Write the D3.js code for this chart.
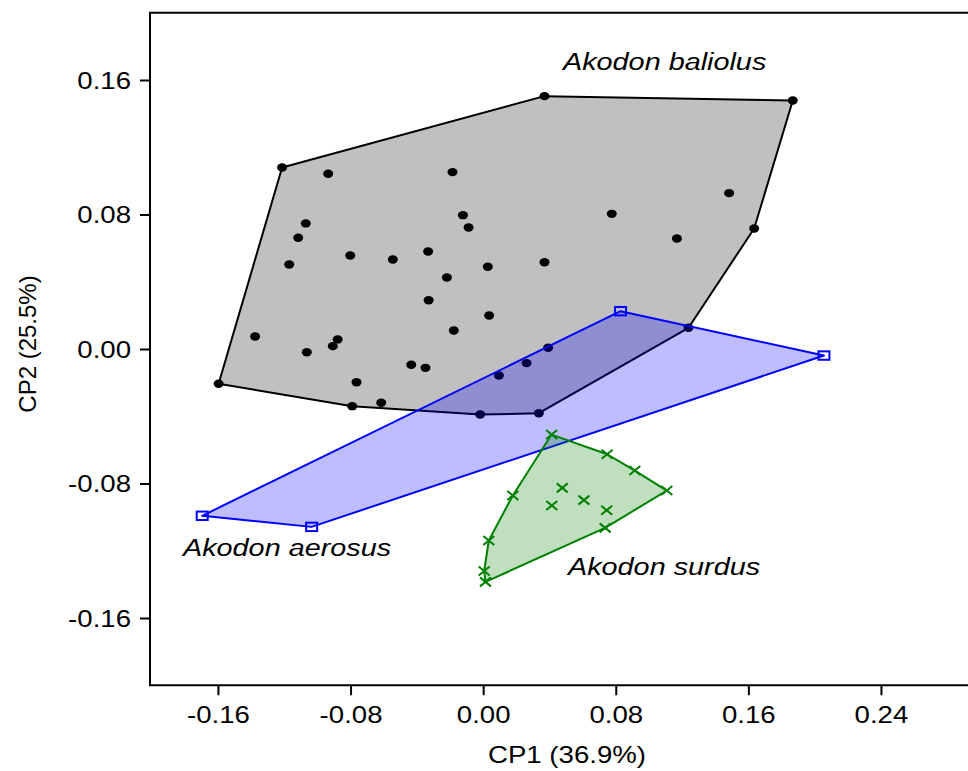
<!DOCTYPE html>
<html>
<head>
<meta charset="utf-8">
<script src="https://cdn.jsdelivr.net/npm/d3@7"></script>
<style>
  html, body { margin: 0; padding: 0; background: #fff; }
  svg { display: block; font-family: "Liberation Sans", Arial, Helvetica, sans-serif; }
</style>
</head>
<body>
<svg id="chart" width="968" height="771"></svg>
<script>
// ---- Data ----
const balX = [-0.1213,-0.0935,-0.0185,-0.1070,-0.1116,-0.0122,-0.0088,-0.0802,-0.0545,-0.0332,
              0.0028,0.0370,-0.1170,-0.0219,-0.0329,0.0036,-0.0177,-0.1376,-0.0878,-0.0907,
              -0.1064,-0.0434,-0.0348,0.0392,0.0262,0.0095,0.0370,-0.1596,-0.0764,-0.0790,
              -0.0615,-0.0018,0.0336,0.1868,0.1484,0.0776,0.1635,0.1169,0.1239];
const balY = [0.1080,0.1042,0.1052,0.0747,0.0662,0.0796,0.0723,0.0556,0.0532,0.0580,
              0.0489,0.0516,0.0503,0.0425,0.0290,0.0199,0.0110,0.0074,0.0057,0.0017,
              -0.0019,-0.0094,-0.0112,0.0007,-0.0084,-0.0158,0.1504,-0.0207,-0.0198,-0.0340,
              -0.0320,-0.0390,-0.0382,0.1478,0.0927,0.0804,0.0717,0.0657,0.0126];
const aerX = [-0.1695,-0.1035,0.0829,0.2056];
const aerY = [-0.0992,-0.1058,0.0225,-0.0039];
const surX = [0.0413,0.0748,0.0915,0.1108,0.0477,0.0608,0.0414,0.0745,0.0736,0.0179,0.0034,0.0006,0.0014];
const surY = [-0.0509,-0.0626,-0.0723,-0.0842,-0.0826,-0.0899,-0.0931,-0.0959,-0.1064,-0.0871,-0.1139,-0.1321,-0.1385];
const xTicks = [-0.16,-0.08,0.00,0.08,0.16,0.24];
const yTicks = [-0.16,-0.08,0.00,0.08,0.16];
const species = ["Akodon baliolus","Akodon aerosus","Akodon surdus"];
const xTitle = "CP1 (36.9%)";
const yTitle = "CP2 (25.5%)";

// ---- Layout ----
const svg = d3.select("#chart");
const L = 150, T = 12.75, B = 685.25;
const x = d3.scaleLinear().domain([-0.201, 0.3]).range([L, L + 0.501 * 1657.5]);
const y = d3.scaleLinear().domain([-0.2, 0.2]).range([B, T]);
const SX = 1.2; // horizontal stretch of the reference
const fmt = d => d3.format(".2f")(d).replace("\u2212", "-");

svg.append("clipPath").attr("id","clip")
  .append("rect").attr("x", L).attr("y", T).attr("width", x(0.3) - L).attr("height", B - T);

const plot = svg.append("g").attr("clip-path","url(#clip)");

function pts(xs, ys){ return xs.map((v,i)=>[x(v), y(ys[i])]); }

// baliolus
const balP = pts(balX, balY);
plot.append("path").attr("d", "M" + d3.polygonHull(balP).join("L") + "Z")
  .attr("fill","#c0c0c0").attr("stroke","#000").attr("stroke-width",2).attr("stroke-linejoin","round");
plot.selectAll(".dot").data(balP).join("ellipse")
  .attr("cx", d=>d[0]).attr("cy", d=>d[1]).attr("rx",5).attr("ry",4.2).attr("fill","#000");

// aerosus
const aerP = pts(aerX, aerY);
plot.append("path").attr("d", "M" + d3.polygonHull(aerP).join("L") + "Z")
  .attr("fill","rgba(0,0,255,0.26)").attr("stroke","#0000ff").attr("stroke-width",2).attr("stroke-linejoin","round");
plot.selectAll(".sq").data(aerP).join("rect")
  .attr("x", d=>d[0]-5.5).attr("y", d=>d[1]-4.2).attr("width",11).attr("height",8.4)
  .attr("fill","none").attr("stroke","#0000ff").attr("stroke-width",2);

// surdus
const surP = pts(surX, surY);
plot.append("path").attr("d", "M" + d3.polygonHull(surP).join("L") + "Z")
  .attr("fill","rgba(0,128,0,0.25)").attr("stroke","#008000").attr("stroke-width",2).attr("stroke-linejoin","round");
plot.selectAll(".xm").data(surP).join("path")
  .attr("d", d=>`M${d[0]-5.5},${d[1]-4.5}L${d[0]+5.5},${d[1]+4.5}M${d[0]-5.5},${d[1]+4.5}L${d[0]+5.5},${d[1]-4.5}`)
  .attr("stroke","#008000").attr("stroke-width",2).attr("fill","none");

// frame
svg.append("rect").attr("x", L).attr("y", T).attr("width", x(0.3) - L).attr("height", B - T)
  .attr("fill","none").attr("stroke","#000").attr("stroke-width",2);

// axes
const xa = svg.append("g").attr("transform", `translate(0,${B})`)
  .call(d3.axisBottom(x).tickValues(xTicks).tickSize(10).tickFormat(fmt));
xa.select(".domain").remove();
xa.selectAll(".tick line").attr("stroke","#000").attr("stroke-width",2);
xa.selectAll(".tick text").attr("y",0).attr("dy",0)
  .attr("transform",`translate(0,38) scale(${SX},1)`)
  .attr("font-size",23).attr("fill","#000").attr("font-family","Liberation Sans, Arial, sans-serif");

const ya = svg.append("g").attr("transform", `translate(${L},0)`)
  .call(d3.axisLeft(y).tickValues(yTicks).tickSize(10).tickFormat(fmt));
ya.select(".domain").remove();
ya.selectAll(".tick line").attr("stroke","#000").attr("stroke-width",2);
ya.selectAll(".tick text").attr("x",0).attr("dy",0)
  .attr("transform",`translate(-19,8) scale(${SX},1)`)
  .attr("font-size",23).attr("fill","#000").attr("font-family","Liberation Sans, Arial, sans-serif");

// axis titles
svg.append("text").attr("text-anchor","middle").attr("font-size",23)
  .attr("transform",`translate(567,763) scale(${SX},1)`).text(xTitle);
svg.append("text").attr("text-anchor","middle").attr("font-size",24)
  .attr("transform",`translate(36,344) rotate(-90)`).text(yTitle);

// species labels
const labPos = [[563,69.5],[183,556],[568,575]];
species.forEach((s,i)=>{
  svg.append("text").attr("font-size",24).attr("font-style","italic")
    .attr("transform",`translate(${labPos[i][0]},${labPos[i][1]}) scale(${SX},1)`).text(s);
});
</script>
</body>
</html>
